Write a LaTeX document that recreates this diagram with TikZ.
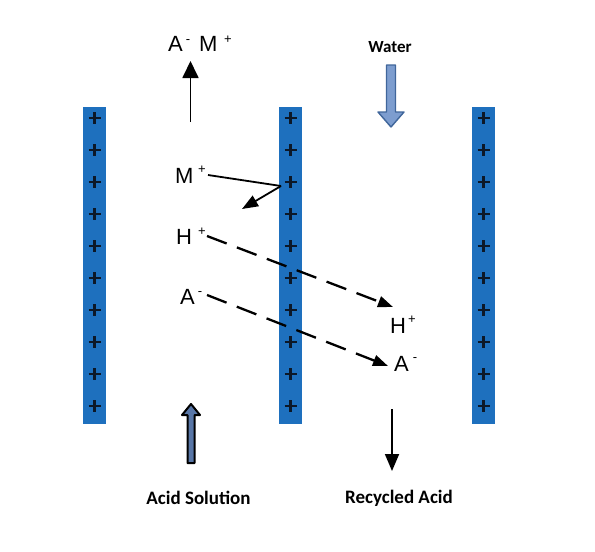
\documentclass[tikz,border=0pt]{standalone}
\usepackage{fontspec}
\setmainfont{Liberation Sans}
\newfontfamily\labelfont{Carlito}
\usetikzlibrary{arrows.meta}
\definecolor{barblue}{RGB}{30,112,190}
\definecolor{plusdark}{RGB}{12,24,40}
\definecolor{waterfill}{RGB}{125,157,207}
\definecolor{waterline}{RGB}{64,102,155}
\definecolor{acidfill}{RGB}{88,118,166}
\tikzset{
  membrane/.style={fill=barblue, draw=none, minimum width=23pt, minimum height=317pt, inner sep=0pt},
  ion/.style={font=\fontsize{22}{22}\selectfont, inner sep=0pt, anchor=base west},
  sup/.style={font=\fontsize{13}{13}\selectfont, inner sep=0pt},
  caption/.style={font=\labelfont\bfseries\fontsize{19}{19}\selectfont, inner sep=0pt},
  solid arrow/.style={line width=1.8pt, -{Triangle[length=17pt,width=16pt]}},
  dash arrow/.style={line width=2.3pt, dash pattern=on 21pt off 11pt, -{Triangle[length=15pt,width=11pt]}},
}
\newcommand{\pluses}[1]{%
  \foreach \yy in {118,150,...,406}{
    \draw[plusdark, line width=2.3pt] (#1-6,\yy) -- (#1+6,\yy) (#1,\yy-6) -- (#1,\yy+6);
  }}
\begin{document}
\begin{tikzpicture}[x=1pt,y=-1pt]
\useasboundingbox (0,0) rectangle (595,552);
\fill[white] (0,0) rectangle (595,552);

% membranes
\node[membrane] (mL) at (94.5,265.5) {};
\node[membrane] (mM) at (290.5,265.5) {};
\node[membrane] (mR) at (483.5,265.5) {};
\pluses{94.5}
\pluses{290.5}
\pluses{483.5}

% top-left label
\node[ion] (tA) at (168,51) {A};
\node[sup] (tAm) at (188,42) {-};
\node[ion] (tM) at (199,51) {M};
\node[sup] (tMp) at (228,40) {+};
\coordinate (upS) at (190.5,122);
\coordinate (upE) at (190.5,61);
\draw[solid arrow] (upS) -- (upE);

% Water
\node[caption, font=\labelfont\bfseries\fontsize{17}{17}\selectfont] (water) at (390,47) {Water};
\draw[waterline, fill=waterfill, line width=1.4pt, line join=round]
  (386.5,65) -- (395.5,65) -- (395.5,112) -- (404,112) -- (391,127) -- (378,112) -- (386.5,112) -- cycle;

% middle ions left side
\node[ion] (lM) at (175,183) {M};
\node[sup] (lMp) at (202,170) {+};
\node[ion] (lH) at (176,244) {H};
\node[sup] (lHp) at (202,232) {+};
\node[ion] (lA) at (180,304) {A};
\node[sup] (lAm) at (200,294) {-};

\coordinate (mS) at (208,175);
\coordinate (mK) at (281,186);
\coordinate (mE) at (242,209);
\draw[line width=1.8pt] (mS) -- (mK);
\draw[line width=1.8pt, -{Triangle[length=16pt,width=12pt]}] (mK) -- (mE);

% right-side ions
\node[ion] (rH) at (390,333) {H};
\node[sup] (rHp) at (412,320) {+};
\node[ion] (rA) at (394,371) {A};
\node[sup] (rAm) at (415,360) {-};

\coordinate (hS) at (207,236);
\coordinate (hE) at (393,307);
\coordinate (aS) at (207,295);
\coordinate (aE) at (388,366);
\draw[dash arrow] (hS) -- (hE);
\draw[dash arrow] (aS) -- (aE);

% acid solution arrow
\draw[black, fill=acidfill, line width=2pt, line join=round]
  (187.5,463) -- (194.5,463) -- (194.5,415) -- (200,415) -- (191,404) -- (182,415) -- (187.5,415) -- cycle;
\node[caption] (acid) at (198.5,498) {Acid Solution};

% recycled acid arrow
\coordinate (rS) at (392,409);
\coordinate (rE) at (392,471);
\draw[line width=1.8pt, -{Triangle[length=17pt,width=14pt]}] (rS) -- (rE);
\node[caption] (recyc) at (399,498) {Recycled Acid};
\end{tikzpicture}
\end{document}
